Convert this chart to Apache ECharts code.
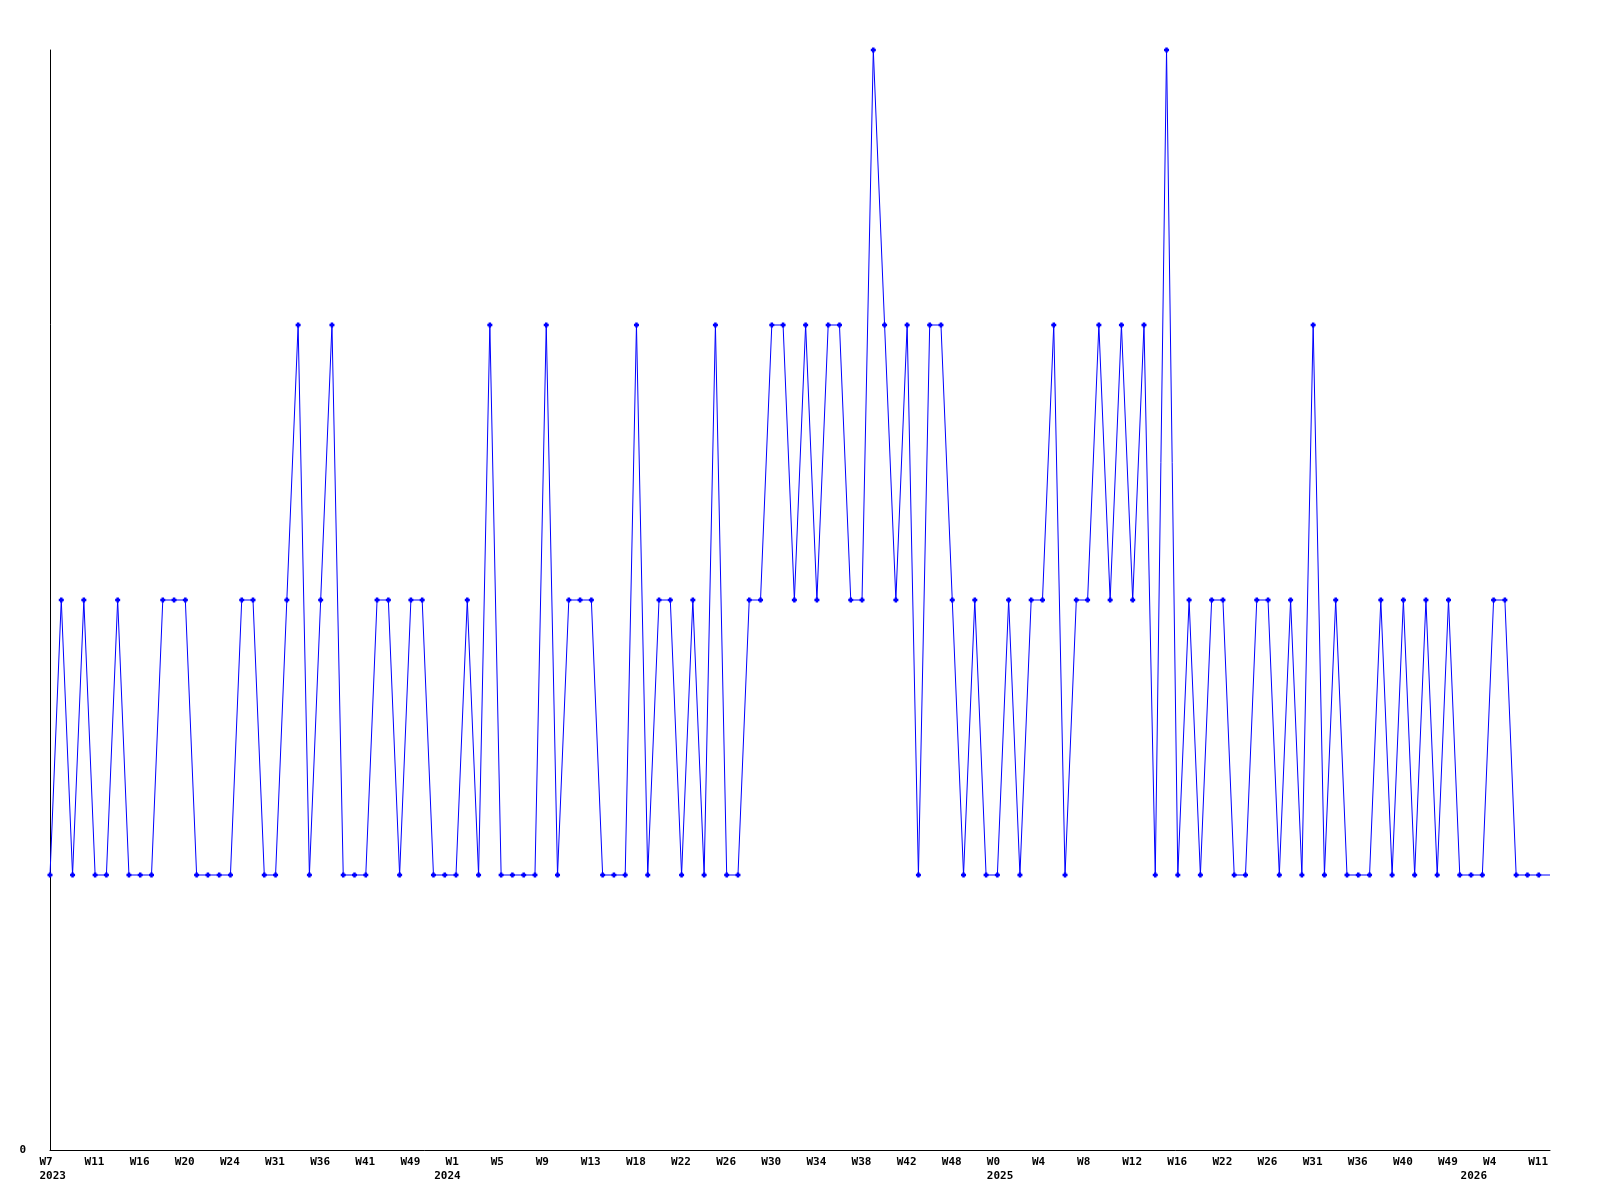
<!DOCTYPE html>
<html>
<head>
<meta charset="utf-8">
<script src="https://cdn.jsdelivr.net/npm/echarts@6/dist/echarts.min.js"></script>
<style>
html,body{margin:0;padding:0;background:#fff;}
#chart{width:1600px;height:1200px;}
</style>
</head>
<body>
<div id="chart"></div>
<script>
// Weekly values, one per point
const values = [1,2,1,2,1,1,2,1,1,1, 2,2,2,1,1,1,1,2,2,1, 1,2,3,1,2,3,1,1,1,2,
  2,1,2,2,1,1,1,2,1,3, 1,1,1,1,3,1,2,2,2,1, 1,1,3,1,2,2,1,2,1,3,
  1,1,2,2,3,3,2,3,2,3, 3,2,2,4,3,2,3,1,3,3, 2,1,2,1,1,2,1,2,2,3,
  1,2,2,3,2,3,2,3,1,4, 1,2,1,2,2,1,1,2,2,1, 2,1,3,1,2,1,1,1,2,1,
  2,1,2,1,2,1,1,1,2,2, 1,1,1,1];
// Week tick labels, shown on every 4th point
const weekLabels = ['W7','W11','W16','W20','W24','W31','W36','W41','W49','W1','W5','W9',
  'W13','W18','W22','W26','W30','W34','W38','W42','W48','W0','W4','W8','W12','W16',
  'W22','W26','W31','W36','W40','W49','W4','W11'];
// Year labels and the point index where each year starts
const yearLabels = ['2023','2024','2025','2026'];
const yearStartIndex = [0,35,84,126];
const labelEvery = 4;

const weekCats = values.map((v, i) => (i % labelEvery === 0 && weekLabels[i / labelEvery]) ? weekLabels[i / labelEvery] : '');
const yearCats = values.map((v, i) => {
  const k = yearStartIndex.indexOf(i);
  return k >= 0 ? yearLabels[k] : '';
});
const seriesData = values.map((v, i) => i === values.length - 1 ? {value: v, symbol: 'none'} : v);

const FONT = 'DejaVu Sans Mono';
const chart = echarts.init(document.getElementById('chart'), null, {renderer: 'canvas'});
chart.setOption({
  animation: false,
  backgroundColor: '#ffffff',
  grid: {left: 50, right: 50, top: 50, bottom: 50, containLabel: false},
  xAxis: [{
    type: 'category',
    data: weekCats,
    boundaryGap: false,
    axisLine: {show: true, lineStyle: {color: '#000', width: 1}},
    axisTick: {show: false},
    splitLine: {show: false},
    axisLabel: {
      interval: labelEvery - 1,
      margin: 7,
      color: '#000',
      fontFamily: FONT,
      fontWeight: 'bold',
      fontSize: 11,
      formatter: v => v ? '{w|' + v + '}' : '',
      rich: {w: {width: 21, align: 'left', fontFamily: FONT, fontWeight: 'bold', fontSize: 11, color: '#000'}}
    }
  }, {
    type: 'category',
    data: yearCats,
    position: 'bottom',
    offset: 14,
    boundaryGap: false,
    axisLine: {show: false},
    axisTick: {show: false},
    splitLine: {show: false},
    axisLabel: {
      interval: 0,
      margin: 7,
      color: '#000',
      fontFamily: FONT,
      fontWeight: 'bold',
      fontSize: 11,
      formatter: v => v ? '{w|' + v + '}' : '',
      rich: {w: {width: 21, align: 'left', fontFamily: FONT, fontWeight: 'bold', fontSize: 11, color: '#000'}}
    }
  }],
  yAxis: {
    type: 'value',
    min: 0,
    max: 4,
    interval: 4,
    axisLine: {show: true, lineStyle: {color: '#000', width: 1}},
    axisTick: {show: false},
    splitLine: {show: false},
    axisLabel: {
      showMaxLabel: false,
      margin: 24,
      color: '#000',
      fontFamily: FONT,
      fontWeight: 'bold',
      fontSize: 11
    }
  },
  series: [{
    type: 'line',
    xAxisIndex: 0,
    data: seriesData,
    symbol: 'path://M1,0H3V1H4V3H3V4H1V3H0V1H1Z',
    symbolSize: 5,
    showAllSymbol: true,
    itemStyle: {color: '#0000ff'},
    lineStyle: {color: '#0000ff', width: 1},
    clip: false
  }]
});
</script>
</body>
</html>
